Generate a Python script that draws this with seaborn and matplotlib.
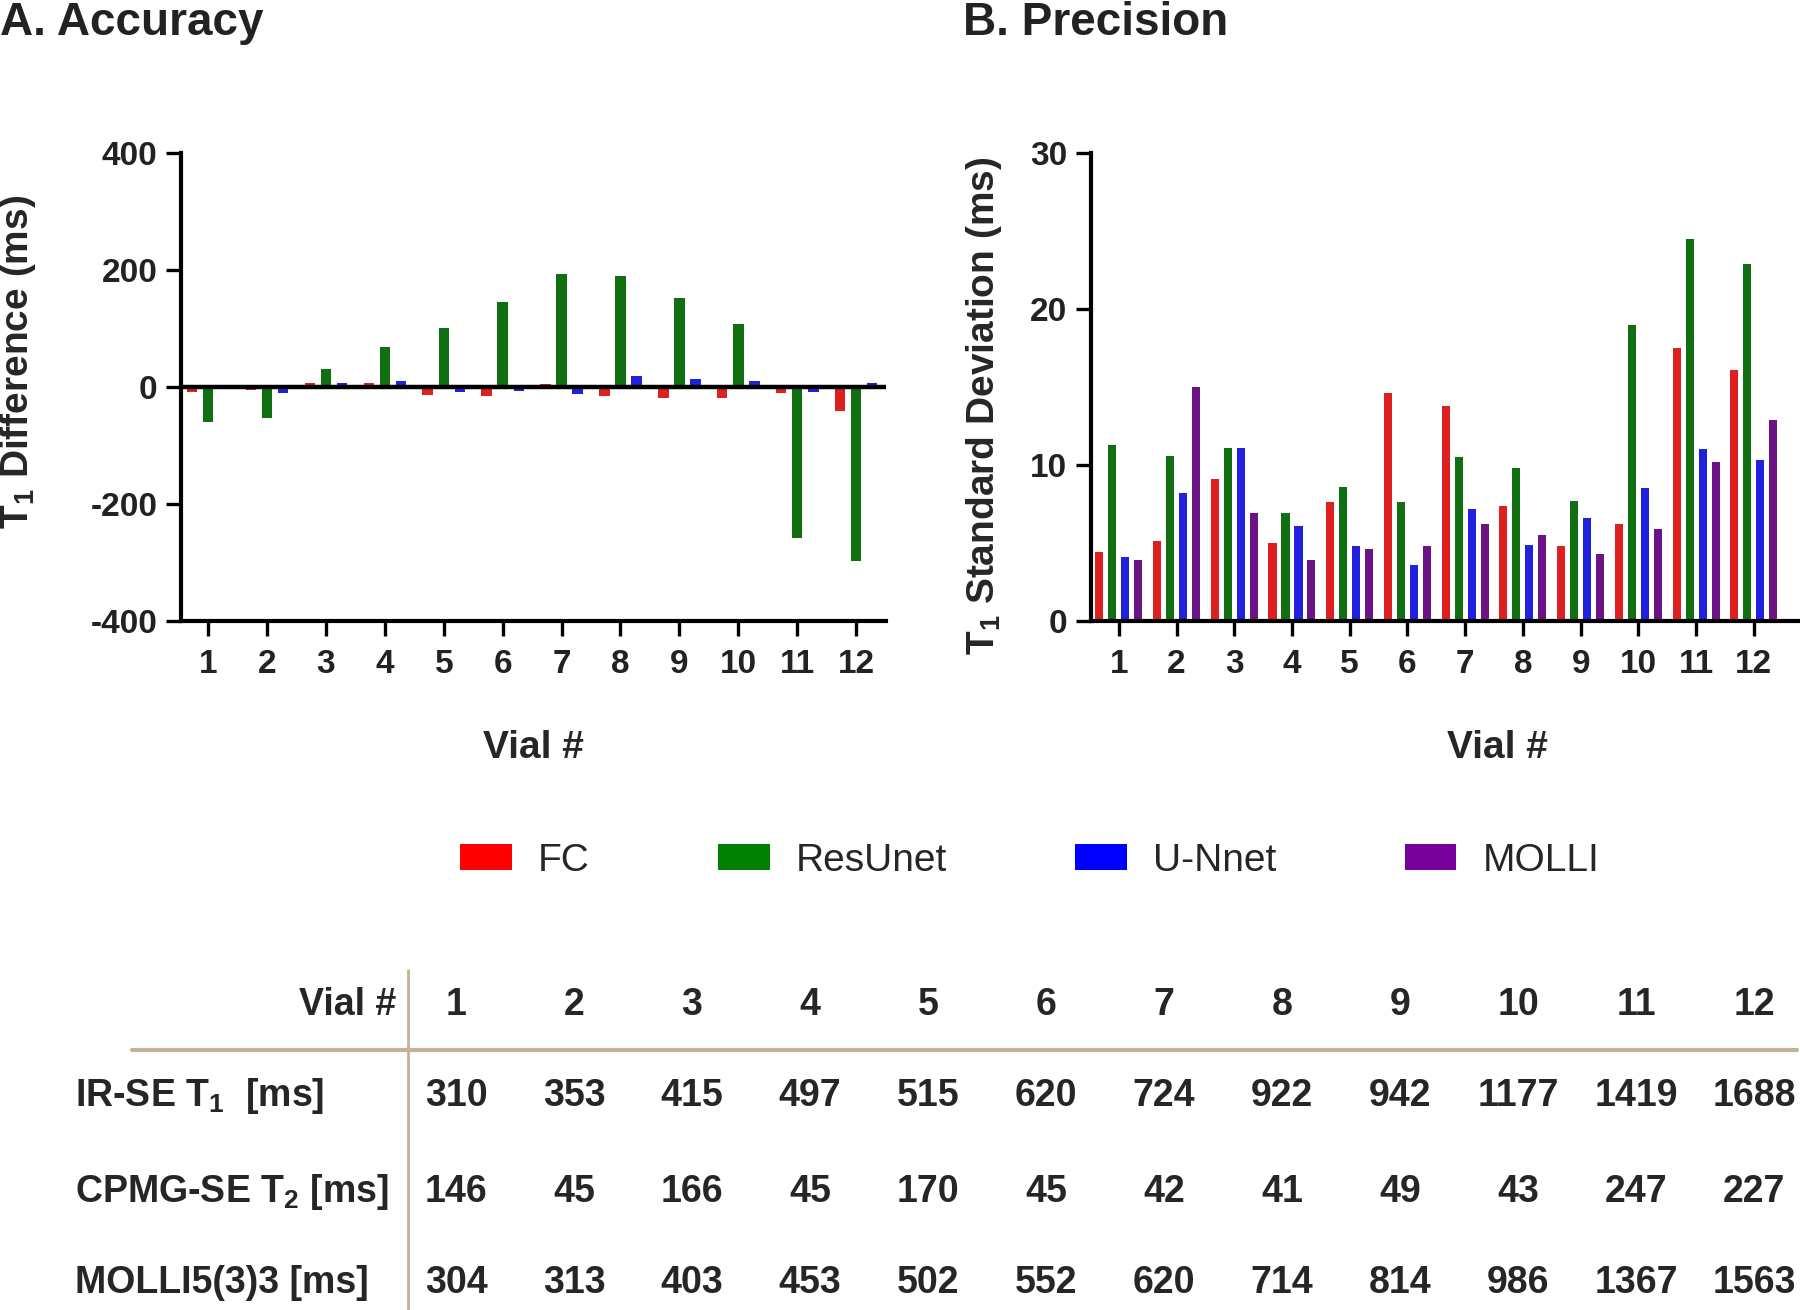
import numpy as np
import pandas as pd
import matplotlib
matplotlib.use("Agg")
import matplotlib.pyplot as plt
from matplotlib.patches import Patch
import seaborn as sns

# ---- data ----
vials = [str(i) for i in range(1, 13)]

# A. Accuracy: T1 difference (ms)
acc_fc = [-8, -5, 7, 7, -14, -15, 5, -15, -18, -19, -11, -41]
acc_resunet = [-60, -53, 30, 69, 101, 145, 193, 190, 152, 108, -258, -298]
acc_unet = [-2, -10, 7, 10, -8, -7, -12, 19, 14, 11, -8, 7]

# B. Precision: T1 standard deviation (ms)
prec_fc = [4.4, 5.1, 9.1, 5.0, 7.6, 14.6, 13.8, 7.4, 4.8, 6.2, 17.5, 16.1]
prec_resunet = [11.3, 10.6, 11.1, 6.9, 8.6, 7.6, 10.5, 9.8, 7.7, 19.0, 24.5, 22.9]
prec_unet = [4.1, 8.2, 11.1, 6.1, 4.8, 3.6, 7.2, 4.9, 6.6, 8.5, 11.0, 10.3]
prec_molli = [3.9, 15.0, 6.9, 3.9, 4.6, 4.8, 6.2, 5.5, 4.3, 5.9, 10.2, 12.9]

# reference table
row_labels = [r"IR-SE T$_\mathbf{1}$  [ms]", r"CPMG-SE T$_\mathbf{2}$ [ms]", "MOLLI5(3)3 [ms]"]
irse_t1 = [310, 353, 415, 497, 515, 620, 724, 922, 942, 1177, 1419, 1688]
cpmg_t2 = [146, 45, 166, 45, 170, 45, 42, 41, 49, 43, 247, 227]
molli_t1 = [304, 313, 403, 453, 502, 552, 620, 714, 814, 986, 1367, 1563]

methods = ["FC", "ResUnet", "U-Nnet", "MOLLI"]
colors = {"FC": "#FF0000", "ResUnet": "#007F00", "U-Nnet": "#0000FF", "MOLLI": "#760099"}

df_acc = pd.DataFrame({"vial": vials * 3,
                       "method": ["FC"] * 12 + ["ResUnet"] * 12 + ["U-Nnet"] * 12,
                       "value": acc_fc + acc_resunet + acc_unet})
df_prec = pd.DataFrame({"vial": vials * 4,
                        "method": sum([[m] * 12 for m in methods], []),
                        "value": prec_fc + prec_resunet + prec_unet + prec_molli})

sns.set_theme(style="ticks")
plt.rcParams["font.family"] = ["Liberation Sans", "DejaVu Sans"]
plt.rcParams["mathtext.fontset"] = "custom"
plt.rcParams["mathtext.rm"] = "Liberation Sans:bold"
plt.rcParams["mathtext.bf"] = "Liberation Sans:bold"
plt.rcParams["axes.unicode_minus"] = False

fig = plt.figure(figsize=(18, 13.1), dpi=100)
axA = fig.add_axes([0.1006, 0.526, 0.3917, 0.3572])
axB = fig.add_axes([0.606, 0.526, 0.394, 0.3572])

sns.barplot(data=df_acc, x="vial", y="value", hue="method", order=vials,
            hue_order=methods[:3], palette=colors, width=0.82, gap=0.35,
            linewidth=0, legend=False, ax=axA, errorbar=None)
sns.barplot(data=df_prec, x="vial", y="value", hue="method", order=vials,
            hue_order=methods, palette=colors, width=0.9, gap=0.38,
            linewidth=0, legend=False, ax=axB, errorbar=None)

axA.axhline(0, color="black", lw=3.2, zorder=5)
axA.set_ylim(-400, 400)
axA.set_yticks([-400, -200, 0, 200, 400])
axA.set_xlim(-0.46, 11.51)
axB.set_ylim(0, 30)
axB.set_yticks([0, 10, 20, 30])
axB.set_xlim(-0.485, 11.8)

axA.set_ylabel(r"T$_\mathbf{1}$ Difference (ms)", fontsize=28, fontweight="bold")
axB.set_ylabel(r"T$_\mathbf{1}$ Standard Deviation (ms)", fontsize=28, fontweight="bold")
axA.yaxis.set_label_coords(-0.203, 0.553)
axB.yaxis.set_label_coords(-0.123, 0.459)

for ax in (axA, axB):
    ax.set_xlabel("Vial #", fontsize=28, fontweight="bold")
    sns.despine(ax=ax)
    for s in ("left", "bottom"):
        ax.spines[s].set_linewidth(3)
        ax.spines[s].set_color("black")
    ax.tick_params(axis="both", length=11, width=2.4, color="black", labelsize=24, pad=6)
    ax.tick_params(axis="x", pad=9)
    for lab in ax.get_xticklabels() + ax.get_yticklabels():
        lab.set_fontweight("bold")
        lab.set_color("#222222")
    ax.set_facecolor("white")
axA.xaxis.set_label_coords(0.5, -0.233)
axB.xaxis.set_label_coords(0.574, -0.233)

fig.text(0.0, 0.999, "A. Accuracy", fontsize=33, fontweight="bold", ha="left", va="top", color="#222222")
fig.text(0.535, 0.999, "B. Precision", fontsize=33, fontweight="bold", ha="left", va="top", color="#222222")

handles = [Patch(facecolor=colors[m], edgecolor="none", label=m) for m in methods]
fig.legend(handles=handles, loc="center", bbox_to_anchor=(0.572, 0.343), ncol=4,
           frameon=False, fontsize=28, handlelength=1.33, handleheight=0.64,
           handletextpad=0.67, columnspacing=3.3)

# ---- table ----
axT = fig.add_axes([0, 0, 1, 1])
axT.set_xlim(0, 1800)
axT.set_ylim(1310, 0)
axT.axis("off")
axT.plot([132, 1797], [1050, 1050], color="#C2B396", lw=3)
axT.plot([408, 408], [970, 1310], color="#C2B396", lw=2)

col_x = 456 + 118 * np.arange(12)
axT.text(396, 1005, "Vial #", fontsize=27, fontweight="bold", ha="right", va="center")
for x, v in zip(col_x, vials):
    axT.text(x, 1005, v, fontsize=27, fontweight="bold", ha="center", va="center")
for y, lab, vals in zip([1096, 1192, 1283], row_labels, [irse_t1, cpmg_t2, molli_t1]):
    axT.text(75, y, lab, fontsize=27, fontweight="bold", ha="left", va="center")
    for x, v in zip(col_x, vals):
        axT.text(x, y, str(v), fontsize=27, fontweight="bold", ha="center", va="center")

fig.savefig("out.png", dpi=100, facecolor="white")
